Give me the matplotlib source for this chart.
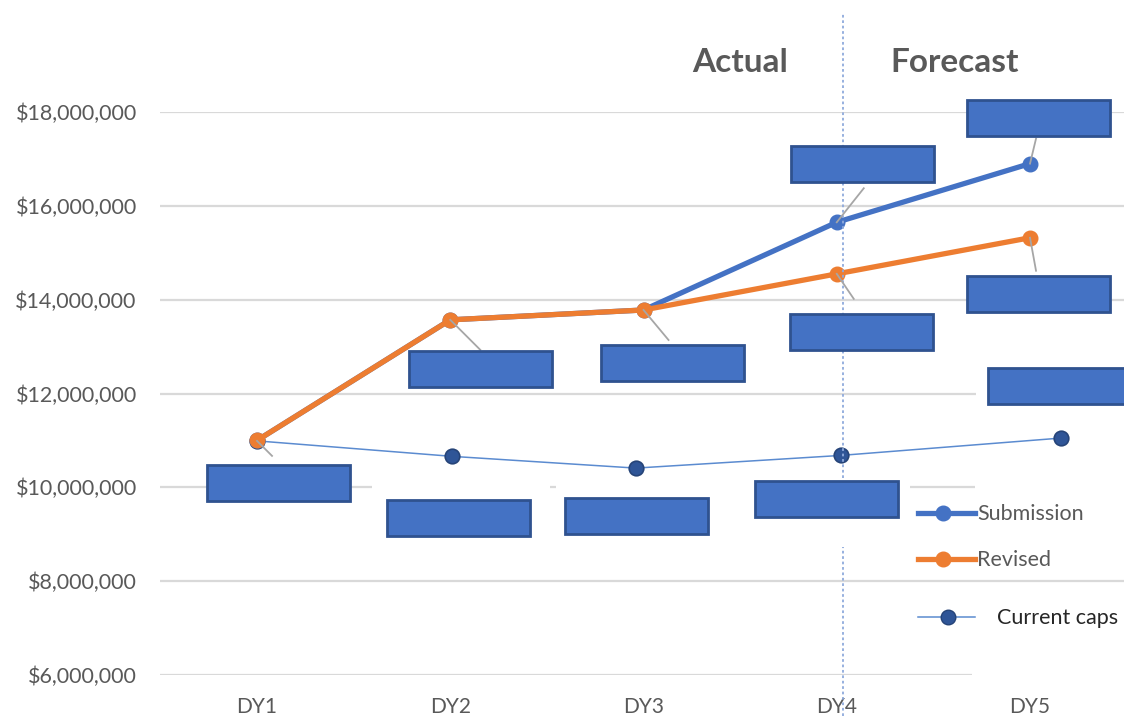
import matplotlib
matplotlib.use("Agg")
import matplotlib.pyplot as plt
from matplotlib.patches import Rectangle
from matplotlib.lines import Line2D
from matplotlib.transforms import IdentityTransform, blended_transform_factory
from matplotlib.ticker import FuncFormatter

# ---------------- data ----------------
categories = ["DY1", "DY2", "DY3", "DY4", "DY5"]
submission = [11.00e6, 13.57e6, 13.78e6, 15.65e6, 16.90e6]
revised = [11.00e6, 13.57e6, 13.78e6, 14.55e6, 15.32e6]
current_caps = [10.99e6, 10.66e6, 10.41e6, 10.68e6, 11.05e6]
caps_pos = [0.0, 1.01, 1.96, 3.02, 4.16]
y_ticks = [6e6, 8e6, 10e6, 12e6, 14e6, 16e6, 18e6]
legend_labels = ["Submission", "Revised", "Current caps"]
section_labels = ["Actual", "Forecast"]

W, H = 1124, 716
BLUE = "#4472C4"
ORANGE = "#ED7D31"
DARKBLUE = "#2F5597"
GRAY_TXT = "#595959"
GRID = "#D9D9D9"
FONT = "Lato"

plt.rcParams["font.family"] = [FONT, "DejaVu Sans"]

fig = plt.figure(figsize=(W / 100, H / 100), dpi=100)
fig.patch.set_facecolor("white")


def fx(px):
    return px / W


def fy(py):
    return 1 - py / H


ax = fig.add_axes([fx(160.4), fy(675), 966.25 / W, 563 / H])
ax.set_xlim(-0.5, 4.5)
ax.set_ylim(6e6, 18e6)
ax.set_facecolor("none")
for s in ax.spines.values():
    s.set_visible(False)
ax.set_yticks(y_ticks)
ax.yaxis.set_major_formatter(FuncFormatter(lambda v, p: "${:,.0f}".format(v)))
ax.set_xticks(range(len(categories)))
ax.set_xticklabels(categories)
ax.tick_params(axis="y", length=0, pad=17, labelsize=15.5, labelcolor=GRAY_TXT)
ax.tick_params(axis="x", length=0, pad=16, labelsize=15, labelcolor=GRAY_TXT)
ax.grid(axis="y", color=GRID, linewidth=1.6, zorder=0)
ax.set_axisbelow(True)

# vertical divider between actual and forecast (dotted)
trans_div = blended_transform_factory(ax.transData, fig.transFigure)
for y0, y1 in [(0.0, fy(547)), (fy(478), fy(14))]:
    fig.add_artist(Line2D([3.03, 3.03], [y0, y1], transform=trans_div,
                          color="#8FAADC", linewidth=1.3, linestyle=(0, (1.5, 1.5)), zorder=1))

# white label backgrounds that hide gridline parts
white_boxes = [(372, 550, 479, 497), (556, 745, 479, 497), (745, 910, 478, 547),
               (975, 1124, 479, 497), (976, 1124, 384, 404), (972, 1124, 664, 686)]
for x0, x1, y0, y1 in white_boxes:
    fig.add_artist(Rectangle((fx(x0), fy(y1)), fx(x1) - fx(x0), fy(y0) - fy(y1),
                             transform=fig.transFigure, facecolor="white",
                             edgecolor="none", zorder=1.5))

# series
ax.plot(caps_pos, current_caps, color="#5B8BD0", linewidth=1.1, marker="o",
        markersize=10.5, markerfacecolor=DARKBLUE, markeredgecolor="#264478",
        markeredgewidth=1.2, zorder=3)
ax.plot(range(5), submission, color=BLUE, linewidth=3.8, marker="o",
        markersize=10.5, markerfacecolor=BLUE, markeredgecolor=BLUE, zorder=4)
ax.plot(range(5), revised, color=ORANGE, linewidth=3.8, marker="o",
        markersize=10.5, markerfacecolor=ORANGE, markeredgecolor=ORANGE, zorder=5)

# covered data labels: (series, index, dx, dy (down), leader end dx, dy or None)
series_map = {"s": (list(range(5)), submission), "r": (list(range(5)), revised),
              "c": (caps_pos, current_caps)}
labels = [
    ("c", 0, 21, 42, (15, 15)),
    ("r", 1, 30, 49, (30, 30)),
    ("c", 1, 6, 62, None),
    ("r", 2, 29, 53, (25, 30)),
    ("c", 2, 1, 48, None),
    ("s", 3, 26, -58, (27, -34)),
    ("r", 3, 25, 58, (17, 25)),
    ("c", 3, -14, 44, None),
    ("s", 4, 8, -46, (6, -25)),
    ("r", 4, 8, 56, (6, 33)),
    ("c", 4, -1, -52, None),
]
fig.canvas.draw()
bw, bh = 143, 36
for key, i, dx, dy, lead in labels:
    xs, ys = series_map[key]
    ax_, ay_ = ax.transData.transform((xs[i], ys[i]))
    cx, cy = ax_ + dx, ay_ - dy
    if lead is not None:
        fig.add_artist(Line2D([ax_, ax_ + lead[0]], [ay_, ay_ - lead[1]],
                              transform=IdentityTransform(), color="#A6A6A6",
                              linewidth=1.3, zorder=6))
    fig.add_artist(Rectangle((cx - bw / 2, cy - bh / 2), bw, bh,
                             transform=IdentityTransform(), facecolor=BLUE,
                             edgecolor="#2F528F", linewidth=2, zorder=7))

# Actual / Forecast headings
fig.text(fx(740), fy(62), section_labels[0], ha="center", va="center",
         fontsize=24, fontweight="bold", color=GRAY_TXT)
fig.text(fx(955), fy(62), section_labels[1], ha="center", va="center",
         fontsize=24, fontweight="bold", color=GRAY_TXT)

# legend (manual)
leg_specs = [
    (513, BLUE, 3.8, BLUE, BLUE, 977, GRAY_TXT, 943),
    (559, ORANGE, 3.8, ORANGE, ORANGE, 977, GRAY_TXT, 943),
    (617, "#5B8BD0", 1.1, DARKBLUE, "#264478", 997, "#262626", 948),
]
for (yy, col, lw, mfc, mec, tx, tcol, mx), lab in zip(leg_specs, legend_labels):
    fig.add_artist(Line2D([fx(918), fx(975)], [fy(yy), fy(yy)], transform=fig.transFigure,
                          color=col, linewidth=lw, zorder=8))
    fig.add_artist(Line2D([fx(mx)], [fy(yy)], transform=fig.transFigure, marker="o",
                          markersize=10.5, markerfacecolor=mfc, markeredgecolor=mec,
                          linestyle="none", zorder=9))
    fig.text(fx(tx), fy(yy + 1), lab, ha="left", va="center", fontsize=15.5, color=tcol)

fig.savefig("out.png", dpi=100)
